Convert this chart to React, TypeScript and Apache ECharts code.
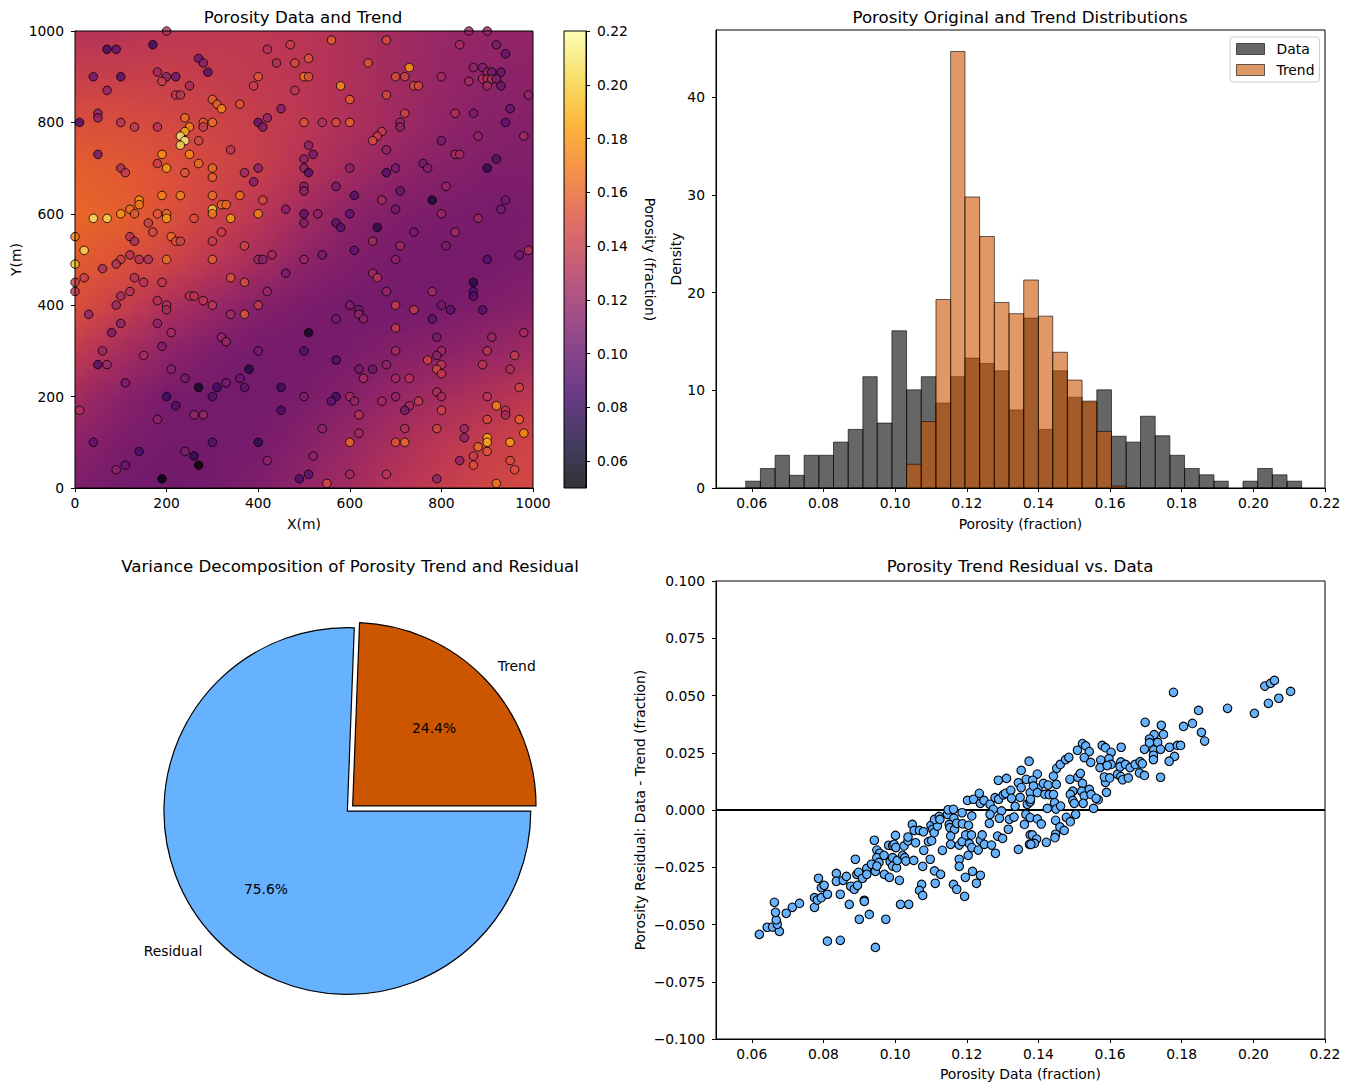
import React, { useEffect, useRef } from "react";
import * as echarts from "echarts";

const FONT = "DejaVu Sans";

// colormap stops (inferno)
const inferno = ["#000004","#160b39","#420a68","#6a176e","#932667","#bc3754","#dd513a","#f37819","#fca50a","#f6d746","#fcffa4"];
const colorMin = 0.05;
const colorMax = 0.22;
const colorTicks = [0.06,0.08,0.10,0.12,0.14,0.16,0.18,0.20,0.22];
const spatialTicks = [0,200,400,600,800,1000];

// Trend surface: rows y=1000 → 0, columns x=0 → 1000
const trendGrid = [
  [.132,.133,.135,.136,.136,.134,.129,.124,.120,.118,.117],
  [.141,.141,.141,.139,.137,.134,.129,.124,.119,.116,.115],
  [.151,.150,.147,.144,.140,.135,.129,.123,.117,.113,.112],
  [.158,.156,.152,.147,.140,.132,.124,.117,.113,.110,.110],
  [.161,.158,.152,.143,.134,.124,.115,.110,.108,.107,.108],
  [.157,.152,.144,.135,.126,.116,.110,.107,.106,.106,.109],
  [.150,.140,.129,.120,.112,.108,.106,.106,.107,.110,.113],
  [.137,.126,.116,.109,.106,.106,.108,.112,.115,.119,.124],
  [.124,.114,.107,.105,.105,.108,.113,.120,.126,.131,.136],
  [.115,.108,.105,.105,.107,.113,.120,.128,.135,.140,.145],
  [.109,.105,.104,.105,.110,.118,.125,.133,.139,.145,.147],
];

// Wells: x, y, porosity
const wells = [
[70,960,.085],[90,960,.095],[170,970,.08],[200,1000,.13],[420,960,.13],[470,970,.14],[270,940,.10],[280,930,.11],[290,910,.09],[440,930,.13],[480,930,.15],[40,900,.10],[100,900,.09],[180,910,.12],[200,900,.115],[220,900,.10],[190,890,.14],[250,880,.125],[400,900,.155],[390,880,.14],[70,870,.115],[220,860,.135],[230,860,.135],[480,870,.135],[300,850,.16],[310,840,.16],[320,830,.175],[360,840,.155],[450,830,.11],[50,820,.115],[50,810,.115],[10,800,.085],[100,800,.13],[130,790,.135],[180,790,.13],[240,810,.165],[280,800,.155],[300,800,.165],[250,790,.175],[280,790,.14],[240,780,.19],[230,770,.21],[240,760,.215],[230,750,.205],[270,760,.145],[400,800,.095],[420,810,.115],[410,790,.105],[340,740,.135],[50,730,.10],[190,730,.18],[250,730,.175],[180,710,.14],[200,700,.185],[270,710,.165],[300,700,.165],[100,700,.125],[110,690,.135],[240,690,.155],[300,680,.16],[370,690,.12],[400,700,.115],[390,670,.11],[190,640,.175],[230,640,.175],[300,640,.165],[360,640,.165],[410,630,.15],[140,630,.18],[140,620,.17],[320,620,.165],[330,620,.165],[300,610,.2],[120,610,.165],[100,600,.18],[130,600,.155],[180,600,.155],[200,600,.165],[200,590,.185],[300,600,.17],[260,590,.15],[340,590,.185],[400,600,.175],[460,610,.11],[40,590,.21],[70,590,.205],[160,580,.14],[170,560,.145],[120,550,.13],[130,540,.125],[210,550,.165],[220,540,.155],[230,540,.145],[320,560,.14],[300,540,.14],[370,530,.145],[0,550,.17],[20,520,.205],[100,500,.14],[120,510,.13],[140,500,.13],[160,500,.13],[200,500,.165],[300,500,.16],[400,500,.12],[410,500,.115],[430,510,.125],[0,490,.195],[90,490,.13],
[560,980,.16],[680,980,.15],[860,1000,.12],[900,1000,.12],[840,970,.125],[920,970,.105],[940,950,.10],[510,940,.155],[640,930,.155],[730,920,.185],[500,900,.17],[510,900,.155],[700,900,.15],[720,900,.145],[800,900,.125],[870,920,.115],[890,920,.11],[900,910,.12],[910,910,.105],[930,910,.10],[860,890,.125],[890,895,.13],[900,895,.13],[910,895,.13],[920,895,.11],[900,880,.125],[930,880,.10],[580,880,.18],[740,880,.155],[750,880,.15],[600,850,.16],[680,860,.15],[990,860,.12],[720,820,.145],[830,820,.13],[870,820,.105],[950,830,.10],[500,800,.155],[540,800,.13],[570,800,.15],[600,800,.16],[710,800,.12],[710,790,.115],[940,800,.095],[670,780,.14],[660,770,.14],[650,760,.15],[800,760,.105],[880,770,.12],[980,770,.125],[510,750,.115],[520,730,.105],[680,740,.115],[830,730,.125],[840,730,.125],[920,720,.09],[500,720,.115],[500,700,.115],[510,690,.09],[600,700,.115],[700,700,.105],[680,690,.09],[760,710,.105],[770,700,.11],[900,700,.075],[570,660,.105],[810,660,.12],[500,660,.115],[500,650,.115],[610,640,.09],[710,650,.10],[780,630,.065],[670,630,.125],[940,630,.105],[930,610,.105],[700,610,.105],[500,600,.095],[530,600,.115],[600,600,.095],[800,600,.12],[880,590,.125],[500,580,.11],[570,580,.095],[580,570,.09],[660,570,.075],[740,560,.105],[830,560,.125],[650,540,.125],[710,530,.125],[810,530,.11],[610,520,.095],[540,510,.105],[700,500,.115],[900,500,.09],[970,510,.105],[990,520,.13],[500,500,.12],
[60,480,.125],[20,460,.14],[130,460,.13],[150,450,.13],[190,450,.135],[0,450,.14],[0,430,.135],[120,430,.13],[100,420,.125],[180,410,.13],[200,400,.13],[200,390,.125],[90,400,.12],[250,420,.135],[260,420,.135],[280,410,.135],[300,400,.135],[340,460,.155],[370,450,.15],[30,380,.115],[340,380,.125],[370,380,.155],[400,400,.14],[420,430,.12],[460,470,.105],[100,360,.115],[180,360,.115],[80,340,.105],[210,340,.125],[320,330,.12],[330,320,.12],[60,300,.12],[190,310,.11],[400,300,.105],[150,290,.125],[50,270,.09],[70,270,.12],[210,260,.115],[240,240,.105],[380,260,.07],[360,240,.10],[110,230,.105],[330,230,.105],[270,220,.06],[310,220,.085],[370,220,.095],[450,220,.08],[300,200,.09],[200,200,.08],[220,180,.09],[450,170,.085],[10,170,.13],[260,160,.12],[280,160,.12],[180,150,.115],[40,100,.095],[300,100,.09],[400,100,.075],[140,80,.085],[240,80,.11],[260,70,.075],[270,50,.05],[420,60,.115],[110,50,.10],[90,40,.115],[190,20,.05],[490,20,.085],
[650,470,.125],[660,460,.135],[680,430,.12],[780,430,.125],[870,450,.07],[870,430,.09],[870,420,.09],[600,400,.11],[620,390,.105],[620,380,.12],[630,370,.115],[570,370,.105],[700,400,.14],[740,390,.14],[800,400,.105],[820,390,.095],[890,390,.09],[780,370,.095],[510,340,.06],[700,350,.14],[980,340,.125],[790,330,.105],[910,330,.12],[500,300,.09],[700,300,.125],[800,300,.125],[900,300,.135],[790,290,.115],[960,290,.14],[570,280,.09],[770,280,.145],[800,270,.135],[890,270,.135],[620,260,.105],[650,260,.10],[680,270,.115],[790,260,.15],[800,250,.14],[950,260,.13],[630,240,.125],[700,240,.125],[730,240,.135],[970,220,.145],[500,200,.11],[570,200,.085],[560,190,.095],[600,200,.125],[610,190,.12],[670,190,.125],[700,200,.115],[750,190,.14],[790,210,.13],[800,200,.125],[900,200,.135],[920,180,.175],[940,170,.135],[940,160,.125],[730,180,.125],[720,170,.105],[800,170,.145],[620,160,.135],[900,150,.15],[970,150,.16],[540,130,.115],[720,130,.13],[790,130,.145],[850,130,.12],[850,110,.115],[620,120,.125],[980,120,.18],[600,100,.165],[700,100,.155],[720,100,.165],[900,110,.19],[900,100,.19],[950,100,.185],[880,90,.165],[900,80,.155],[520,70,.115],[870,70,.14],[840,60,.115],[950,60,.15],[870,50,.15],[960,40,.15],[510,30,.095],[600,30,.125],[680,30,.135],[790,20,.115],[550,10,.15],[920,10,.17],
];

// Histogram
const histTicks = [0.06,0.08,0.10,0.12,0.14,0.16,0.18,0.20,0.22];
const densityTicks = [0,10,20,30,40];
const binEdges = [.0583,.0624,.0665,.0705,.0746,.0787,.0828,.0869,.0910,.0950,.0991,.1032,.1073,.1114,.1155,.1195,.1236,.1277,.1318,.1359,.1400,.1440,.1481,.1522,.1563,.1604,.1645,.1685,.1726,.1767,.1808,.1849,.1890,.1930,.1971,.2012,.2053,.2094,.2135];
const dataDensity = [.7,2.0,3.35,1.3,3.35,3.35,4.7,6.0,11.4,6.65,16.1,10.05,11.4,8.7,11.4,13.3,12.75,12.0,8.0,17.4,6.0,12.0,9.3,8.8,10.05,5.3,4.7,7.35,5.35,3.35,2.0,1.35,.7,0,.7,2.0,1.35,.7];
const trendDensity = [0,0,0,0,0,0,0,0,0,0,0,2.43,6.8,19.3,44.7,29.8,25.75,19.0,17.85,21.3,17.6,13.9,11.05,8.9,5.8,.2,0,0,0,0,0,0,0,0,0,0,0,0];

// Pie
const pieNames = ["Trend","Residual"];
const pieValues = [24.4,75.6];
const pieColors = ["#CC5500","#66B2FF"];

// Residual scatter: porosity data, residual
const residuals = [
[.0621,-.0543],[.0643,-.0512],[.0658,-.0511],[.0677,-.0530],[.0671,-.0499],[.0668,-.0480],[.0666,-.0447],[.0663,-.0403],[.0696,-.0451],[.0713,-.0425],[.0733,-.0408],[.0775,-.0425],[.0775,-.0383],[.0783,-.0393],[.0794,-.0383],[.0811,-.0368],[.0786,-.0298],[.0794,-.0339],[.0802,-.0329],[.0811,-.0573],[.0847,-.0569],[.0847,-.0368],[.0836,-.0277],[.0836,-.0311],[.0855,-.0307],[.0864,-.0290],[.0872,-.0412],[.0876,-.0333],[.0886,-.0346],[.0895,-.0329],[.0889,-.0215],[.0893,-.0281],[.0898,-.0272],[.0909,-.0298],[.0914,-.0394],[.0914,-.0399],[.0900,-.0477],[.0928,-.0456],[.0945,-.0600],[.0974,-.0477],[.0921,-.0255],[.0921,-.0281],[.0934,-.0237],[.0945,-.0268],[.0942,-.0132],[.0949,-.0175],[.0957,-.0189],[.0949,-.0208],[.0955,-.0229],[.0949,-.0245],[.0969,-.0198],[.0970,-.0281],[.0984,-.0294],[.0982,-.0154],[.0993,-.0156],[.1001,-.0111],[.0997,-.0150],[.1002,-.0164],[.1012,-.0307],[.0986,-.0226],[.0993,-.0208],[.0993,-.0245],[.1004,-.0252],[.1006,-.0220],[.1015,-.0412],[.1038,-.0412],[.1021,-.0198],[.1025,-.0157],[.1027,-.0208],[.1030,-.0223],[.1036,-.0135],[.1036,-.0118],[.1057,-.0143],[.1048,-.0063],[.1053,-.0089],[.1052,-.0220],[.1068,-.0089],[.1079,-.0095],[.1080,-.0176],[.1077,-.0246],[.1074,-.0325],[.1068,-.0351],[.1077,-.0373],[.1093,-.0138],[.1102,-.0134],[.1098,-.0215],[.1100,-.0067],[.1105,-.0084],[.1109,-.0099],[.1118,-.0070],[.1110,-.0041],[.1123,-.0028],[.1125,-.0041],[.1110,-.0266],[.1127,-.0281],[.1112,-.0320],[.1132,-.0176],[.1146,-.0019],[.1148,.0001],[.1163,.0003],[.1164,-.0036],[.1151,-.0063],[.1153,-.0077],[.1166,-.0084],[.1172,-.0058],[.1155,-.0114],[.1155,-.0150],[.1163,-.0325],[.1172,-.0346],[.1194,-.0377],[.1179,-.0215],[.1179,-.0246],[.1179,-.0153],[.1187,-.0138],[.1196,-.0294],[.1216,-.0268],[.1238,-.0285],[.1227,-.0320],[.1204,-.0198],[.1187,-.0012],[.1188,-.0060],[.1205,-.0067],[.1214,-.0026],[.1197,-.0109],[.1213,-.0109],[.1207,-.0147],[.1214,-.0164],[.1232,-.0175],[.1238,-.0132],[.1243,-.0109],[.1249,-.0150],[.1269,-.0153],[.1280,-.0189],[.1202,.0042],[.1219,.0047],[.1235,.0073],[.1238,.0029],[.1248,.0042],[.1265,.0025],[.1279,.0054],[.1289,.0047],[.1302,.0066],[.1308,.0073],[.1323,.0086],[.1288,.0130],[.1311,.0138],[.1344,.0119],[.1352,.0173],[.1374,.0213],[.1366,.0134],[.1352,.0098],[.1325,.0051],[.1349,.0055],[.1335,.0016],[.1274,.0003],[.1297,-.0004],[.1291,-.0036],[.1265,-.0019],[.1263,-.0058],[.1319,-.0041],[.1332,-.0031],[.1286,-.0114],[.1300,-.0124],[.1316,-.0084],[.1344,-.0172],[.1361,-.0063],[.1365,-.0019],[.1377,-.0033],[.1377,.0076],[.1369,.0025],[.1377,.0036],[.1377,-.0109],[.1375,-.0150],
[.1397,.0157],[.1384,.0130],[.1399,.0095],[.1386,.0105],[.1397,.0076],[.1378,.0047],[.1414,.0116],[.1427,.0109],[.1418,.0068],[.1430,.0067],[.1442,.0148],[.1451,.0182],[.1461,.0199],[.1476,.0220],[.1485,.0230],[.1450,.0112],[.1442,.0068],[.1445,.0032],[.1449,.0004],[.1462,.0017],[.1425,.0007],[.1397,-.0039],[.1408,-.0061],[.1383,-.0109],[.1395,-.0127],[.1389,-.0146],[.1379,-.0150],[.1422,-.0141],[.1448,-.0045],[.1448,-.0106],[.1446,-.0121],[.1460,-.0074],[.1472,-.0089],[.1478,-.0032],[.1489,-.0051],[.1504,-.0019],[.1488,.0134],[.1510,.0143],[.1517,.0160],[.1523,.0116],[.1496,.0082],[.1489,.0068],[.1496,.0042],[.1500,.0029],[.1521,.0082],[.1528,.0061],[.1525,.0029],[.1542,.0090],[.1547,.0068],[.1567,.0045],[.1561,.0051],[.1554,.0007],[.1590,.0077],[.1587,.0121],[.1584,.0144],[.1599,.0140],[.1621,.0156],[.1630,.0146],[.1635,.0132],[.1651,.0140],[.1509,.0261],[.1523,.0290],[.1532,.0280],[.1542,.0255],[.1528,.0229],[.1546,.0208],[.1574,.0218],[.1572,.0185],[.1578,.0282],[.1587,.0272],[.1603,.0252],[.1597,.0224],[.1603,.0199],[.1592,.0194],[.1631,.0274],[.1630,.0210],[.1628,.0189],[.1643,.0199],[.1656,.0185],[.1670,.0199],[.1684,.0211],[.1690,.0202],[.1682,.0162],[.1696,.0151],[.1741,.0143],[.1698,.0383],[.1743,.0370],[.1749,.0330],[.1723,.0329],[.1710,.0310],[.1710,.0294],[.1733,.0295],[.1696,.0265],[.1722,.0262],[.1741,.0265],[.1721,.0239],[.1721,.0220],[.1766,.0274],[.1788,.0282],[.1797,.0282],[.1780,.0234],[.1765,.0213],[.1805,.0365],[.1830,.0378],[.1847,.0435],[.1855,.0339],[.1864,.0301],[.1777,.0514],[.1928,.0444],[.2003,.0422],[.2032,.0541],[.2048,.0553],[.2059,.0566],[.2042,.0466],[.2071,.0488],[.2104,.0518],
];
const zeroLine = [[0.05,0],[0.22,0]];
const residualTicks = [-0.1,-0.075,-0.05,-0.025,0,0.025,0.05,0.075,0.1];

const hexRgb = (h: string) => [1,3,5].map((i) => parseInt(h.slice(i,i+2),16));

function colorOf(v: number): number[] {
  const t = Math.min(1, Math.max(0, (v - colorMin) / (colorMax - colorMin))) * (inferno.length - 1);
  const i = Math.min(inferno.length - 2, Math.floor(t));
  const a = hexRgb(inferno[i]), b = hexRgb(inferno[i + 1]);
  return a.map((c, k) => Math.round(c + (b[k] - c) * (t - i)));
}

function trendImage(): string {
  const rows = trendGrid.length, cols = trendGrid[0].length;
  const src = document.createElement("canvas");
  src.width = cols; src.height = rows;
  const sctx = src.getContext("2d")!;
  const img = sctx.createImageData(cols, rows);
  trendGrid.forEach((row, r) => row.forEach((v, c) => {
    const rgb = colorOf(v);
    const o = (r * cols + c) * 4;
    img.data[o] = rgb[0]; img.data[o+1] = rgb[1]; img.data[o+2] = rgb[2]; img.data[o+3] = 255;
  }));
  sctx.putImageData(img, 0, 0);
  const dst = document.createElement("canvas");
  dst.width = 458; dst.height = 457;
  const dctx = dst.getContext("2d")!;
  dctx.imageSmoothingEnabled = true;
  dctx.imageSmoothingQuality = "low";
  dctx.drawImage(src, 0.5, 0.5, cols - 1, rows - 1, 0, 0, 458, 457);
  return dst.toDataURL("image/png");
}

const LABEL = 13.89;
const tickStyle = { show: true, inside: false, length: 4, lineStyle: { color: "#000", width: 1 } };
const lineStyle = { show: true, onZero: false, lineStyle: { color: "#000", width: 1 } };
const nameBase = { color: "#000", fontSize: LABEL, fontFamily: FONT };

function title(text: string, x: number, y: number) {
  return { text, left: x, top: y, textAlign: "center", padding: 0, textStyle: { fontSize: 16.67, fontWeight: "normal", color: "#000", fontFamily: FONT } };
}

function axis(gridIndex: number, min: number, max: number, ticks: number[], fmt: (v: number) => string, name: string, gap: number, margin: number, rot?: number, position?: string) {
  return {
    type: "value", gridIndex, min, max, position,
    name, nameLocation: "middle", nameGap: gap, nameRotate: rot, nameTextStyle: nameBase,
    splitLine: { show: false }, axisLine: lineStyle,
    axisTick: { ...tickStyle, customValues: ticks },
    axisLabel: { color: "#000", fontSize: LABEL, fontFamily: FONT, margin, customValues: ticks, formatter: fmt },
  };
}

function histRender(fill: string) {
  return (params: any, api: any) => {
    const h = api.value(2);
    if (!h) return null;
    const a = api.coord([api.value(0), h]);
    const b = api.coord([api.value(1), 0]);
    return { type: "rect", shape: { x: a[0], y: a[1], width: b[0] - a[0], height: b[1] - a[1] }, style: { fill, stroke: "rgba(0,0,0,0.6)", lineWidth: 1 } };
  };
}

export default function App() {
  const ref = useRef<HTMLDivElement>(null);
  useEffect(() => {
    const chart = echarts.init(ref.current!, undefined, { renderer: "svg" });
    const bg = trendImage();
    const f2 = (v: number) => v.toFixed(2);
    const f3 = (v: number) => v.toFixed(3).replace("-", "\u2212");
    const i0 = (v: number) => String(Math.round(v));
    const dataFill = "rgba(0,0,0,0.6)";
    const trendFill = "rgba(204,85,0,0.6)";
    const bins = (d: number[]) => d.map((h, i) => [binEdges[i], binEdges[i + 1], h]);
    const pieData = pieNames.map((name, i) => ({ name, value: pieValues[i], selected: true, itemStyle: { color: pieColors[i] } }));
    const gradStops = inferno.map((c, i) => {
      const [r, g, b] = hexRgb(c);
      return { offset: i / (inferno.length - 1), color: `rgba(${r},${g},${b},0.8)` };
    });

    chart.setOption({
      animation: false,
      textStyle: { fontFamily: FONT },
      title: [
        title("Porosity Data and Trend", 303, 9),
        title("Porosity Original and Trend Distributions", 1020, 9),
        title("Variance Decomposition of Porosity Trend and Residual", 350, 558),
        title("Porosity Trend Residual vs. Data", 1020, 558),
      ],
      grid: [
        { left: 75, top: 31, width: 458, height: 457 },
        { left: 564, top: 31, width: 22, height: 457 },
        { left: 716, top: 30, width: 609, height: 458, show: true, borderColor: "#000", borderWidth: 1 },
        { left: 716, top: 581, width: 609, height: 458, show: true, borderColor: "#000", borderWidth: 1 },
      ],
      xAxis: [
        axis(0, 0, 1000, spatialTicks, i0, "X(m)", 29, 8),
        { type: "value", gridIndex: 1, min: 0, max: 1, show: false },
        axis(2, 0.05, 0.22, histTicks, f2, "Porosity (fraction)", 29, 8),
        axis(3, 0.05, 0.22, histTicks, f2, "Porosity Data (fraction)", 28, 8),
      ],
      yAxis: [
        axis(0, 0, 1000, spatialTicks, i0, "Y(m)", 52, 11, 90),
        axis(1, colorMin, colorMax, colorTicks, f2, "Porosity (fraction)", 57, 11, -90, "right"),
        axis(2, 0, 46.9, densityTicks, i0, "Density", 33, 11, 90),
        axis(3, -0.1, 0.1, residualTicks, f3, "Porosity Residual: Data - Trend (fraction)", 69, 11, 90),
      ],
      legend: {
        left: 1230, top: 37, orient: "vertical", padding: [5, 5, 5, 6], itemGap: 7, itemWidth: 28, itemHeight: 11,
        backgroundColor: "#fff", borderColor: "#ccc", borderWidth: 1, borderRadius: 3,
        textStyle: { fontSize: LABEL, color: "#000", fontFamily: FONT, padding: [0, 0, 0, 7] },
        data: [
          { name: "Data", icon: "rect", itemStyle: { color: dataFill, borderColor: "rgba(0,0,0,0.6)", borderWidth: 1 } },
          { name: "Trend", icon: "rect", itemStyle: { color: trendFill, borderColor: "rgba(0,0,0,0.6)", borderWidth: 1 } },
        ],
      },
      visualMap: {
        show: false, seriesIndex: 1, dimension: 2, min: colorMin, max: colorMax,
        inRange: { color: inferno },
      },
      series: [
        {
          type: "custom", xAxisIndex: 0, yAxisIndex: 0, z: 1, silent: true,
          data: [[0, 0, 1000, 1000]],
          renderItem: (p: any, api: any) => {
            const a = api.coord([api.value(0), api.value(3)]);
            const b = api.coord([api.value(2), api.value(1)]);
            return { type: "image", style: { image: bg, x: a[0], y: a[1], width: b[0] - a[0], height: b[1] - a[1] } };
          },
        },
        {
          type: "scatter", xAxisIndex: 0, yAxisIndex: 0, z: 2, symbolSize: 8.5, clip: true,
          data: wells,
          itemStyle: { opacity: 0.8, borderColor: "#000", borderWidth: 1 },
        },
        {
          type: "custom", xAxisIndex: 0, yAxisIndex: 0, z: 5, silent: true,
          data: [[0, 0, 1000, 1000]],
          renderItem: (p: any, api: any) => {
            const a = api.coord([api.value(0), api.value(3)]);
            const b = api.coord([api.value(2), api.value(1)]);
            return { type: "rect", shape: { x: a[0], y: a[1], width: b[0] - a[0], height: b[1] - a[1] }, style: { fill: "none", stroke: "#000", lineWidth: 1 } };
          },
        },
        {
          type: "custom", xAxisIndex: 1, yAxisIndex: 1, z: 5, silent: true,
          data: [[0, colorMin, 1, colorMax]],
          renderItem: (p: any, api: any) => {
            const a = api.coord([api.value(0), api.value(3)]);
            const b = api.coord([api.value(2), api.value(1)]);
            return {
              type: "rect", shape: { x: a[0], y: a[1], width: b[0] - a[0], height: b[1] - a[1] },
              style: { fill: new echarts.graphic.LinearGradient(0, 1, 0, 0, gradStops), stroke: "#000", lineWidth: 1 },
            };
          },
        },
        {
          name: "Data", type: "custom", xAxisIndex: 2, yAxisIndex: 2, z: 2, silent: true,
          data: bins(dataDensity), renderItem: histRender(dataFill),
          itemStyle: { color: dataFill },
        },
        {
          name: "Trend", type: "custom", xAxisIndex: 2, yAxisIndex: 2, z: 3, silent: true,
          data: bins(trendDensity), renderItem: histRender(trendFill),
          itemStyle: { color: trendFill },
        },
        {
          type: "pie", center: [350, 808.5], radius: [0, 183.4], clockwise: false, startAngle: 0,
          selectedMode: "multiple", selectedOffset: 3.67, avoidLabelOverlap: false, silent: true,
          data: pieData,
          itemStyle: { borderColor: "#000", borderWidth: 1.2 },
          label: { show: true, position: "outside", formatter: "{b}", color: "#000", fontSize: LABEL, fontFamily: FONT },
          labelLine: { show: false, length: 18, length2: -5 },
          emphasis: { disabled: true },
        },
        {
          type: "pie", center: [350, 808.5], radius: [0, 220], clockwise: false, startAngle: 0,
          selectedMode: "multiple", selectedOffset: 3.67, avoidLabelOverlap: false, silent: true, z: 3,
          data: pieNames.map((name, i) => ({ name, value: pieValues[i], selected: true, itemStyle: { color: "rgba(0,0,0,0)" } })),
          label: { show: true, position: "inner", formatter: (p: any) => p.percent.toFixed(1) + "%", color: "#000", fontSize: LABEL, fontFamily: FONT },
          labelLine: { show: false },
          emphasis: { disabled: true },
        },
        {
          type: "line", xAxisIndex: 3, yAxisIndex: 3, z: 2, data: zeroLine, symbol: "none", silent: true,
          lineStyle: { color: "#000", width: 2 },
        },
        {
          type: "scatter", xAxisIndex: 3, yAxisIndex: 3, z: 3, data: residuals, symbolSize: 8.5, silent: true,
          itemStyle: { color: "#66B2FF", borderColor: "#000", borderWidth: 1.1, opacity: 1 },
        },
      ],
    });
    return () => chart.dispose();
  }, []);
  return <div ref={ref} style={{ position: "absolute", left: 0, top: 0, width: 1350, height: 1091 }} />;
}
